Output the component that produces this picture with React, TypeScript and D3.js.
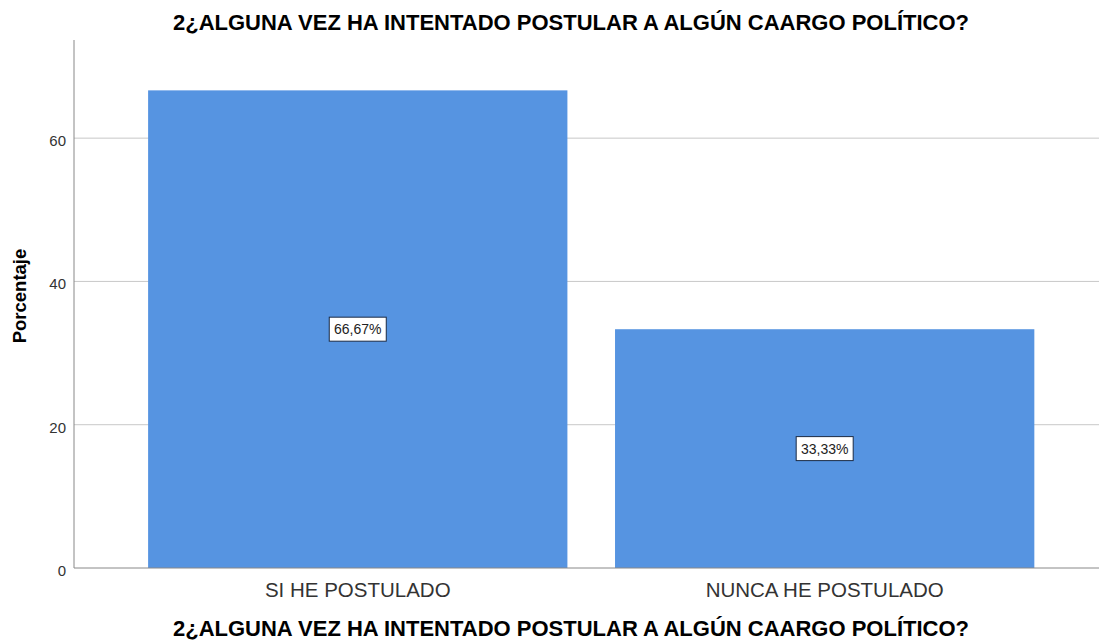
import React from "react";
import * as d3 from "d3";

const categories = ["SI HE POSTULADO", "NUNCA HE POSTULADO"];
const values = [66.67, 33.33];
const valueLabels = ["66,67%", "33,33%"];
const yTicks = [0, 20, 40, 60];
const title = "2¿ALGUNA VEZ HA INTENTADO POSTULAR A ALGÚN CAARGO POLÍTICO?";
const yTitle = "Porcentaje";

const W = 1099;
const H = 642;
const left = 74;
const right = 1099;
const top = 40;
const bottom = 568;
const font = "Liberation Sans, Arial, sans-serif";

export default function App() {
  const y = d3.scaleLinear().domain([0, 73.7]).range([bottom, top]);
  const x = d3
    .scaleBand<string>()
    .domain(categories)
    .range([left, right])
    .paddingInner(0.102)
    .paddingOuter(0.1486)
    .align(0.534);

  return (
    <svg
      width={W}
      height={H}
      style={{ position: "absolute", left: 0, top: 0, background: "#fff" }}
    >
      <rect x={0} y={0} width={W} height={H} fill="#fff" />
      <text
        x={571}
        y={30}
        textAnchor="middle"
        fontFamily={font}
        fontWeight="bold"
        fontSize={22}
        fill="#000"
      >
        {title}
      </text>
      {yTicks.map((t) => (
        <g key={t}>
          {t > 0 && (
            <line
              x1={left}
              x2={right}
              y1={y(t)}
              y2={y(t)}
              stroke="#c8c8c8"
              strokeWidth={1}
            />
          )}
          <text
            x={left - 8}
            y={y(t) + 8}
            textAnchor="end"
            fontFamily={font}
            fontSize={15}
            fill="#333"
          >
            {t}
          </text>
        </g>
      ))}
      {categories.map((c, i) => {
        const bx = x(c)!;
        const bw = x.bandwidth();
        const cx = bx + bw / 2;
        const cy = (y(values[i]) + y(0)) / 2;
        const lw = 57;
        const lh = 24;
        return (
          <g key={c}>
            <rect
              x={bx}
              y={y(values[i])}
              width={bw}
              height={y(0) - y(values[i])}
              fill="#5694e1"
            />
            <rect
              x={cx - lw / 2}
              y={cy - lh / 2}
              width={lw}
              height={lh}
              fill="#fff"
              stroke="#1a2a44"
              strokeWidth={1}
            />
            <text
              x={cx}
              y={cy + 5}
              textAnchor="middle"
              fontFamily={font}
              fontSize={14}
              fill="#222"
            >
              {valueLabels[i]}
            </text>
            <text
              x={cx}
              y={597}
              textAnchor="middle"
              fontFamily={font}
              fontSize={20.5}
              fill="#333"
            >
              {c}
            </text>
          </g>
        );
      })}
      <line x1={left} x2={left} y1={top} y2={bottom} stroke="#888" strokeWidth={1} />
      <line x1={left} x2={right} y1={bottom} y2={bottom} stroke="#888" strokeWidth={1} />
      <text
        x={571}
        y={636}
        textAnchor="middle"
        fontFamily={font}
        fontWeight="bold"
        fontSize={22}
        fill="#000"
      >
        {title}
      </text>
      <text
        transform={`translate(26, 296) rotate(-90)`}
        textAnchor="middle"
        fontFamily={font}
        fontWeight="bold"
        fontSize={18.5}
        fill="#000"
      >
        {yTitle}
      </text>
    </svg>
  );
}
